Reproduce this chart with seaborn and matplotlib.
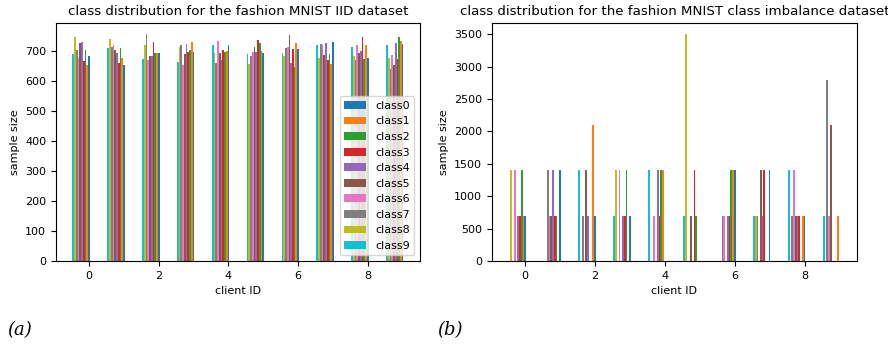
import pandas as pd
import matplotlib
matplotlib.use("Agg")
import matplotlib.pyplot as plt
import seaborn as sns

# client IDs and classes
clients = list(range(10))
classes = ["class%d" % i for i in range(10)]

# IID split: samples per class (class0..class9) for each client
iid_counts = [
    [685, 655, 705, 667, 730, 727, 678, 705, 748, 689],
    [655, 678, 711, 660, 695, 705, 719, 715, 741, 711],
    [693, 693, 693, 730, 685, 685, 669, 756, 719, 674],
    [697, 730, 704, 697, 723, 691, 654, 719, 713, 665],
    [719, 700, 697, 704, 671, 693, 733, 660, 693, 719],
    [694, 700, 727, 736, 697, 713, 697, 685, 657, 689],
    [708, 727, 648, 708, 660, 752, 713, 710, 682, 694],
    [730, 657, 689, 671, 727, 686, 719, 722, 678, 719],
    [678, 719, 674, 747, 700, 693, 719, 671, 682, 713],
    [725, 734, 747, 672, 728, 652, 688, 641, 678, 719],
]

# class imbalance split: samples per class (class0..class9) for each client
imbalance_counts = [
    [700, 700, 1400, 700, 700, 0, 1400, 0, 1400, 0],
    [1400, 0, 700, 700, 1400, 700, 700, 1400, 0, 0],
    [700, 2100, 0, 0, 700, 1400, 0, 700, 0, 1400],
    [700, 0, 1400, 700, 700, 0, 1400, 0, 1400, 700],
    [0, 1400, 1400, 700, 1400, 0, 700, 0, 0, 1400],
    [0, 0, 700, 1400, 0, 700, 0, 0, 3500, 700],
    [1400, 1400, 1400, 700, 700, 0, 700, 700, 0, 0],
    [1400, 0, 0, 1400, 700, 1400, 0, 700, 700, 700],
    [700, 700, 0, 700, 700, 700, 1400, 700, 0, 1400],
    [0, 700, 0, 0, 0, 2100, 700, 2800, 0, 700],
]


def to_long(counts):
    rows = []
    for c, row in zip(clients, counts):
        for cls, v in zip(classes, row):
            rows.append({"client": c, "class": cls, "size": v})
    df = pd.DataFrame(rows)
    # groups sit left of the tick: class0 on the tick, class9 furthest left
    df["pos"] = df["client"] - 0.225
    return df


df_iid = to_long(iid_counts)
df_imb = to_long(imbalance_counts)

palette = dict(zip(classes, sns.color_palette("tab10", 10)))

fig = plt.figure(figsize=(8.88, 3.47), dpi=100)
ax1 = fig.add_axes([0.063, 0.248, 0.410, 0.686])
ax2 = fig.add_axes([0.554, 0.248, 0.411, 0.686])

for ax, df, title in [
    (ax1, df_iid, "class distribution for the fashion MNIST IID dataset"),
    (ax2, df_imb, "class distribution for the fashion MNIST class imbalance dataset"),
]:
    sns.barplot(data=df, x="pos", y="size", hue="class", hue_order=classes[::-1],
                palette=palette, native_scale=True, width=0.5, saturation=1,
                errorbar=None, linewidth=0, ax=ax)
    ax.set_xticks(range(0, 10, 2))
    ax.set_xticklabels([str(i) for i in range(0, 10, 2)])
    ax.set_xlabel("client ID", fontsize=8)
    ax.set_ylabel("sample size", fontsize=8)
    ax.set_title(title, fontsize=9.6)
    ax.tick_params(labelsize=8)
    ax.margins(x=0.05, y=0.05)

ax1.set_yticks(range(0, 701, 100))
ax2.set_yticks(range(0, 3501, 500))

h, l = ax1.get_legend_handles_labels()
ax1.legend(h[::-1], l[::-1], loc="lower right", fontsize=8)
ax2.get_legend().remove()

fig.text(0.008, 0.035, "(a)", fontsize=13, family="DejaVu Serif", style="italic")
fig.text(0.492, 0.035, "(b)", fontsize=13, family="DejaVu Serif", style="italic")

fig.savefig("out.png", dpi=100)
